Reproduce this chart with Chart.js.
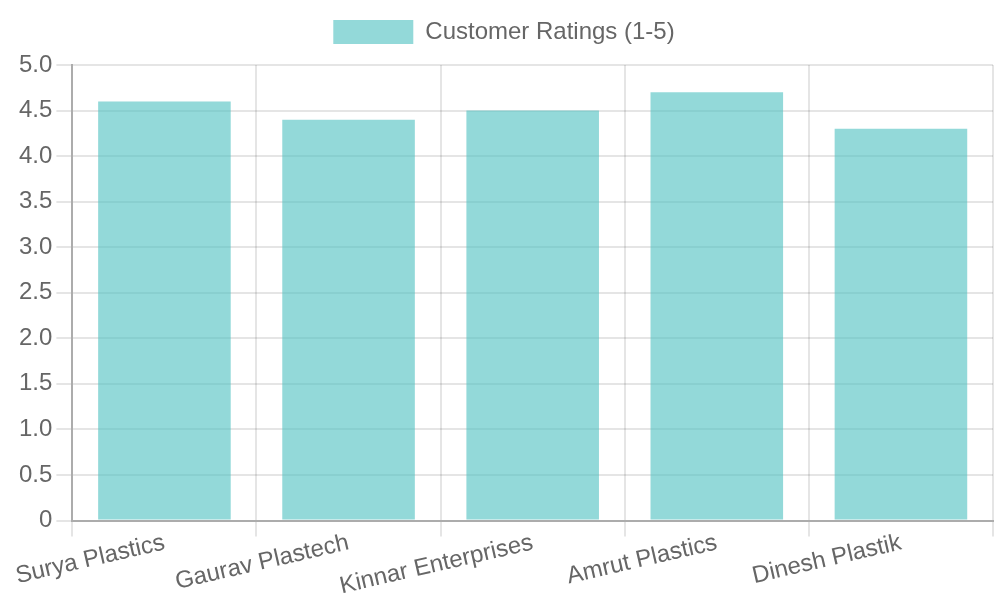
<!DOCTYPE html>
<html>
<head>
<meta charset="utf-8">
<script src="https://cdn.jsdelivr.net/npm/chart.js@4/dist/chart.umd.min.js"></script>
<style>
  html, body { margin: 0; padding: 0; background: #fff; }
  #wrap { width: 1000px; height: 600px; }
</style>
</head>
<body>
<div id="wrap"><canvas id="ratingsChart"></canvas></div>
<script>
// data
var suppliers = ['Surya Plastics', 'Gaurav Plastech', 'Kinnar Enterprises', 'Amrut Plastics', 'Dinesh Plastik'];
var ratings = [4.6, 4.4, 4.5, 4.7, 4.3];
var seriesLabel = 'Customer Ratings (1-5)';

Chart.defaults.font.family = '"Liberation Sans", Arial, sans-serif';
Chart.defaults.font.size = 24;
Chart.defaults.color = '#666';

var gridOpts = { color: 'rgba(0,0,0,0.1)', lineWidth: 2, tickLength: 16 };
var borderOpts = { color: '#acacac', width: 2 };

// a bit more room between legend and plot
var legendGap = {
    id: 'legendGap',
    beforeInit: function(chart) {
        var fit = chart.legend.fit;
        chart.legend.fit = function() {
            fit.call(this);
            this.height += 11;
        };
    }
};

new Chart(document.getElementById('ratingsChart'), {
    type: 'bar',
    data: {
        labels: suppliers,
        datasets: [{
            label: seriesLabel,
            data: ratings,
            backgroundColor: 'rgba(75, 192, 192, 0.6)',
            borderWidth: 0
        }]
    },
    options: {
        responsive: true,
        maintainAspectRatio: false,
        animation: false,
        layout: { padding: { left: 15, right: 7, bottom: 7 } },
        plugins: {
            legend: {
                labels: { boxWidth: 80, boxHeight: 24, padding: 20 }
            },
            tooltip: { enabled: false }
        },
        scales: {
            y: {
                beginAtZero: true,
                max: 5,
                ticks: { stepSize: 0.5, padding: 4 },
                grid: gridOpts,
                border: borderOpts
            },
            x: {
                ticks: { padding: -8, minRotation: 13, maxRotation: 13 },
                grid: gridOpts,
                border: borderOpts
            }
        }
    },
    plugins: [legendGap]
});
</script>
</body>
</html>
